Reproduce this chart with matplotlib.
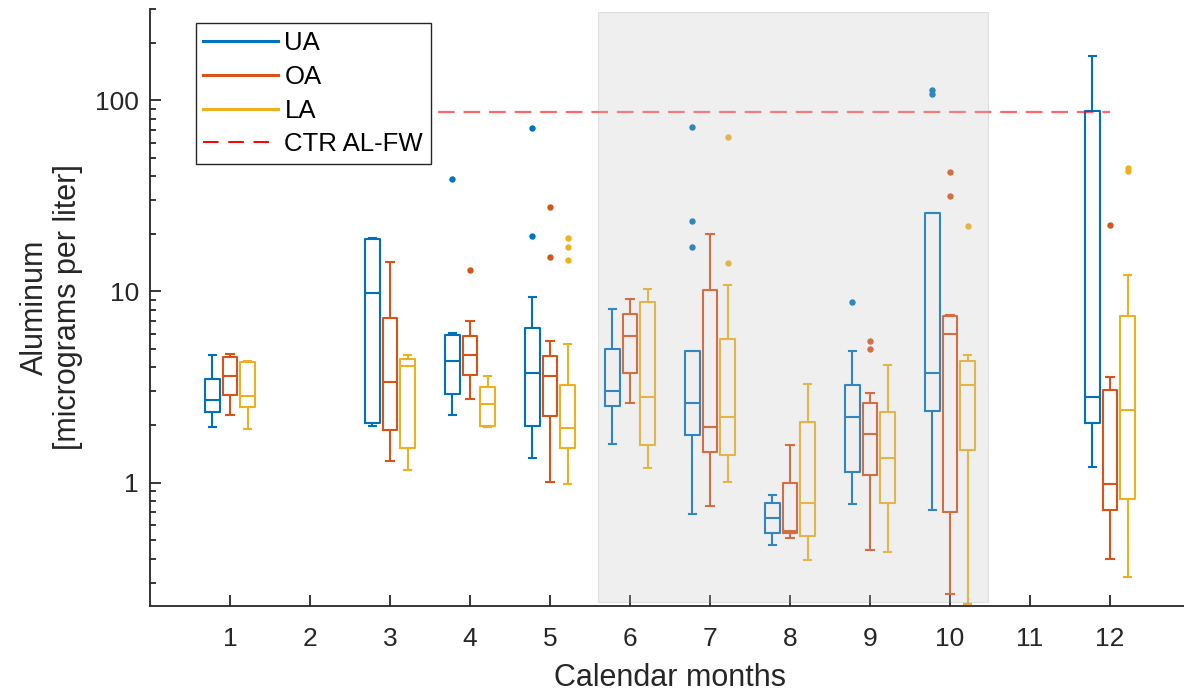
import numpy as np
import matplotlib
matplotlib.use("Agg")
import matplotlib.pyplot as plt
from matplotlib import ticker
from matplotlib.lines import Line2D
from matplotlib.patches import Rectangle

plt.rcParams["font.family"] = ["Liberation Sans", "DejaVu Sans"]

# ── Data: box statistics per calendar month (micrograms per liter) ─────────
MONTHS = [1, 3, 4, 5, 6, 7, 8, 9, 10, 12]

UA_LO  = [1.96, 1.98, 2.26, 1.34, 1.60, 0.684, 0.472, 0.773, 0.719, 1.21]
UA_Q1  = [2.34, 2.06, 2.92, 1.98, 2.51, 1.77, 0.545, 1.14, 2.36, 2.05]
UA_MED = [2.70, 9.77, 4.34, 3.74, 3.02, 2.60, 0.656, 2.19, 3.72, 2.80]
UA_Q3  = [3.49, 18.7, 5.88, 6.40, 4.97, 4.85, 0.780, 3.25, 25.7, 87.6]
UA_HI  = [4.66, 19.0, 6.08, 9.30, 8.11, 4.85, 0.862, 4.89, 25.7, 170.0]
UA_OUT = [[], [], [38.8], [19.4, 71.7], [], [17.1, 23.4, 72.8], [], [8.80],
          [108.0, 113.0], []]

OA_LO  = [2.26, 1.29, 2.72, 1.01, 2.62, 0.755, 0.512, 0.443, 0.261, 0.400]
OA_Q1  = [2.86, 1.89, 3.66, 2.22, 3.74, 1.45, 0.545, 1.10, 0.705, 0.722]
OA_MED = [3.62, 3.35, 4.66, 3.59, 5.84, 1.96, 0.561, 1.80, 6.01, 0.98]
OA_Q3  = [4.55, 7.26, 5.84, 4.62, 7.58, 10.2, 0.996, 2.61, 7.40, 3.05]
OA_HI  = [4.72, 14.3, 7.03, 5.47, 9.16, 19.9, 1.58, 2.94, 7.55, 3.58]
OA_OUT = [[], [], [13.0], [15.1, 27.7], [], [], [], [4.99, 5.50],
          [31.7, 42.2], [22.3]]

LA_LO  = [1.90, 1.17, 1.96, 0.98, 1.19, 1.01, 0.392, 0.432, 0.232, 0.320]
LA_Q1  = [2.49, 1.52, 1.98, 1.51, 1.58, 1.40, 0.528, 0.783, 1.48, 0.822]
LA_MED = [2.83, 4.05, 2.59, 1.93, 2.81, 2.20, 0.783, 1.35, 3.24, 2.40]
LA_Q3  = [4.28, 4.44, 3.17, 3.25, 8.75, 5.67, 2.08, 2.34, 4.34, 7.40]
LA_HI  = [4.34, 4.65, 3.63, 5.28, 10.3, 10.8, 3.26, 4.13, 4.66, 12.2]
LA_OUT = [[], [], [], [14.6, 17.0, 19.1], [], [14.0, 64.3], [], [],
          [21.9], [42.5, 44.0]]

CTR_AL_FW = 87.0          # freshwater chronic criterion
CTR_SPAN = (3.6, 12.0)
SEASON = (5.6, 10.47)     # shaded months

BLUE = (0.0, 0.447, 0.741)
ORANGE = (0.850, 0.325, 0.098)
YELLOW = (0.929, 0.694, 0.125)
AXCOL = "#262626"

series = [
    ("UA", BLUE, -0.22, UA_LO, UA_Q1, UA_MED, UA_Q3, UA_HI, UA_OUT),
    ("OA", ORANGE, 0.0, OA_LO, OA_Q1, OA_MED, OA_Q3, OA_HI, OA_OUT),
    ("LA", YELLOW, 0.22, LA_LO, LA_Q1, LA_MED, LA_Q3, LA_HI, LA_OUT),
]

fig = plt.figure(figsize=(11.84, 6.93), dpi=100)
ax = fig.add_axes([0.1267, 0.126, 0.8784, 0.861])

lw = 1.5
for name, col, off, lo, q1, med, q3, hi, out in series:
    stats = [dict(whislo=a, q1=b, med=c, q3=d, whishi=e, fliers=f)
             for a, b, c, d, e, f in zip(lo, q1, med, q3, hi, out)]
    ax.bxp(stats, positions=np.array(MONTHS) + off, widths=0.18,
           capwidths=0.09, manage_ticks=False,
           boxprops=dict(color=col, lw=lw),
           medianprops=dict(color=col, lw=lw),
           whiskerprops=dict(color=col, lw=lw, solid_capstyle="butt"),
           capprops=dict(color=col, lw=lw),
           flierprops=dict(marker="o", markersize=3.6, markerfacecolor=col,
                           markeredgecolor=col, linestyle="none"))

# criterion line
ax.plot(CTR_SPAN, [CTR_AL_FW, CTR_AL_FW], color="red", alpha=0.6, lw=1.6,
        linestyle=(0, (7.5, 4)), zorder=4)

# shaded season, drawn over the boxes
ax.add_patch(Rectangle((SEASON[0], 0.238), SEASON[1] - SEASON[0], 290 - 0.238,
                       facecolor=(0.76, 0.76, 0.76), alpha=0.25,
                       edgecolor=(0.6, 0.6, 0.6), lw=0.8, zorder=5))

ax.set_yscale("log")
ax.set_ylim(0.227, 300)
ax.set_xlim(0, 13)
ax.set_xticks(range(1, 13))
ax.set_xticklabels([str(m) for m in range(1, 13)])
ax.yaxis.set_major_locator(ticker.FixedLocator([1, 10, 100]))
ax.yaxis.set_major_formatter(ticker.FixedFormatter(["1", "10", "100"]))
ax.yaxis.set_minor_locator(ticker.LogLocator(base=10, subs=np.arange(2, 10)))
ax.yaxis.set_minor_formatter(ticker.NullFormatter())

for s in ["top", "right"]:
    ax.spines[s].set_visible(False)
for s in ["left", "bottom"]:
    ax.spines[s].set_color(AXCOL)
    ax.spines[s].set_linewidth(1.3)

ax.tick_params(which="both", direction="in", colors=AXCOL, width=1.3,
               labelsize=19, labelcolor=AXCOL)
ax.tick_params(which="major", length=8)
ax.tick_params(which="minor", length=4)
ax.tick_params(axis="x", pad=15)
ax.tick_params(axis="y", pad=8)

ax.set_xlabel("Calendar months", fontsize=22, color=AXCOL, labelpad=9)
ax.set_ylabel("Aluminum\n[micrograms per liter]", fontsize=22, color=AXCOL,
              labelpad=9, linespacing=1.1)

handles = [Line2D([], [], color=BLUE, lw=2.2),
           Line2D([], [], color=ORANGE, lw=2.2),
           Line2D([], [], color=YELLOW, lw=2.2),
           Line2D([], [], color="red", lw=1.4, linestyle=(0, (8, 5)))]
leg = ax.legend(handles, ["UA", "OA", "LA", "CTR AL-FW"], loc="upper left",
                bbox_to_anchor=(0.044, 0.976), borderaxespad=0,
                fontsize=18.5, handlelength=2.9, handletextpad=0.25,
                labelspacing=0.38, borderpad=0.3, fancybox=False,
                framealpha=1, edgecolor=AXCOL)
leg.get_frame().set_linewidth(1.0)
leg.set_zorder(10)

fig.savefig("out.png", dpi=100)
